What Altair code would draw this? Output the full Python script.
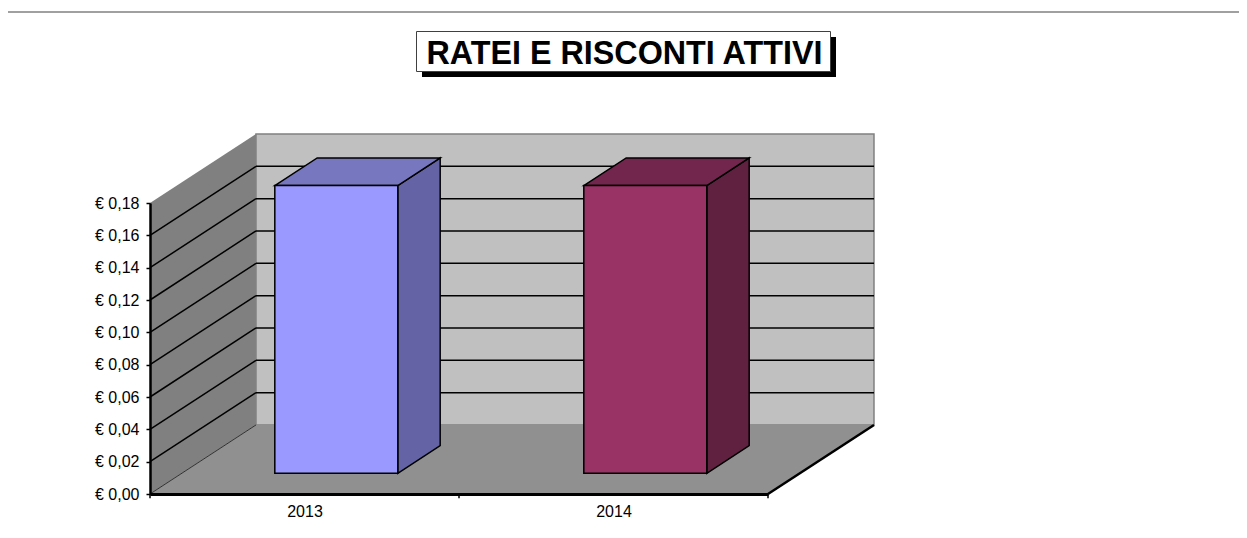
import altair as alt
import pandas as pd

categories = ["2013", "2014"]
values = [0.178, 0.178]
category_slots = [0, 1]
front_colors = ["#9999ff", "#993366"]
top_colors = ["#7777bf", "#73264d"]
side_colors = ["#6363a5", "#602040"]
grid_values = [0.02, 0.04, 0.06, 0.08, 0.10, 0.12, 0.14, 0.16]
y_ticks = [0.0, 0.02, 0.04, 0.06, 0.08, 0.10, 0.12, 0.14, 0.16, 0.18]
x_tick_positions = [0, 1, 2]
title_text = "RATEI E RISCONTI ATTIVI"

y_max = 0.18
x_max = 2.0
depth_x = 0.343   # category units per full depth
depth_y = 0.0427  # value units per full depth
bar_start, bar_end = 0.301, 0.699
bar_d0, bar_d1 = 0.30, 0.70

FONT = "Liberation Sans"
x_scale = alt.Scale(domain=[0, x_max], nice=False, zero=False)
y_scale = alt.Scale(domain=[0, y_max], nice=False, zero=False)


def enc_x(**kw):
    return alt.X("x:Q", scale=x_scale, **kw)


def enc_y(**kw):
    return alt.Y("y:Q", scale=y_scale, stack=None, **kw)


def poly(rows, color, stroke=None, width=0):
    df = pd.DataFrame(rows, columns=["x", "y", "y2"])
    props = dict(color=color, opacity=1, clip=False)
    if stroke:
        props.update(stroke=stroke, strokeWidth=width)
    return alt.Chart(df).mark_area(**props).encode(x=enc_x(), y=enc_y(), y2="y2:Q")


def seg(rows, color="black", width=1.5):
    df = pd.DataFrame(rows, columns=["x", "x2", "y", "y2"])
    return alt.Chart(df).mark_rule(color=color, strokeWidth=width).encode(
        x=enc_x(), x2="x2:Q", y=enc_y(), y2="y2:Q"
    )


axis_y = alt.Axis(
    values=y_ticks, tickCount=len(y_ticks), title=None, grid=False, zindex=2, labelOverlap=False,
    labelExpr="'€ ' + replace(format(datum.value, '.2f'), '.', ',')",
    labelFont=FONT, labelFontSize=16, labelColor="black", labelPadding=7,
    tickColor="black", tickSize=4, tickWidth=1.5,
    domainColor="black", domainWidth=2.5,
)
axis_x = alt.Axis(
    values=[0.5, 1.5], title=None, grid=False, zindex=2, labelOverlap=False,
    labelExpr="datum.value < 1 ? '" + categories[0] + "' : '" + categories[1] + "'",
    labelFont=FONT, labelFontSize=16, labelColor="black", labelPadding=9,
    labelAngle=0, tickSize=0, domainColor="black", domainWidth=3,
)

layers = []

# back wall, with the axes attached
back = pd.DataFrame(
    [(depth_x, y_max + depth_y, depth_y), (x_max + depth_x, y_max + depth_y, depth_y)],
    columns=["x", "y", "y2"],
)
layers.append(
    alt.Chart(back).mark_area(color="#c0c0c0", stroke="#808080", strokeWidth=1.5, opacity=1).encode(
        x=enc_x(axis=axis_x), y=enc_y(axis=axis_y), y2="y2:Q"
    )
)
# side wall
layers.append(poly([(0, y_max, 0), (depth_x, y_max + depth_y, depth_y)], "#808080"))
# floor
layers.append(
    poly(
        [
            (0, 0, 0),
            (depth_x, depth_y, 0),
            (x_max, depth_y, 0),
            (x_max + depth_x, depth_y, depth_y),
        ],
        "#909090",
    )
)
# floor edges
layers.append(seg([(x_max, x_max + depth_x, 0, depth_y)], "black", 2.5))
layers.append(seg([(0, depth_x, 0, depth_y)], "#303030", 1))
# gridlines: back and side wall
layers.append(seg([(depth_x, x_max + depth_x, v + depth_y, v + depth_y) for v in grid_values]))
layers.append(seg([(0, depth_x, v, v + depth_y) for v in grid_values]))
# axis ticks on x
layers.append(seg([(t, t, 0, -0.0026) for t in x_tick_positions], "black", 1.5))

# bars
for slot, val, fc, tc, sc in zip(category_slots, values, front_colors, top_colors, side_colors):
    x0 = slot + bar_start + bar_d0 * depth_x
    x1 = slot + bar_end + bar_d0 * depth_x
    base = bar_d0 * depth_y
    top = base + val
    dx = (bar_d1 - bar_d0) * depth_x
    dy = (bar_d1 - bar_d0) * depth_y
    layers.append(poly([(x1, top, base), (x1 + dx, top + dy, base + dy)], sc, "black", 1.5))
    layers.append(
        poly(
            [(x0, top, top), (x0 + dx, top + dy, top), (x1, top + dy, top), (x1 + dx, top + dy, top + dy)],
            tc, "black", 1.5,
        )
    )
    layers.append(poly([(x0, top, base), (x1, top, base)], fc, "black", 1.5))

# header: full-width rule and boxed title with drop shadow (offsets from plot origin)
anchor = pd.DataFrame({"label": [title_text]})
layers.append(
    alt.Chart(anchor).mark_rule(color="#808080", strokeWidth=1.5).encode(
        x=alt.value(-150), x2=alt.value(1097), y=alt.value(-191), y2=alt.value(-191)
    )
)
layers.append(
    alt.Chart(anchor).mark_rect(color="black").encode(
        x=alt.value(272), x2=alt.value(686), y=alt.value(-166), y2=alt.value(-126)
    )
)
layers.append(
    alt.Chart(anchor).mark_rect(fill="white", stroke="#404040", strokeWidth=1).encode(
        x=alt.value(266.5), x2=alt.value(680.5), y=alt.value(-171.5), y2=alt.value(-131.5)
    )
)
layers.append(
    alt.Chart(anchor).mark_text(
        font=FONT, fontSize=32.3, fontWeight="bold", color="black", align="center", baseline="middle"
    ).encode(x=alt.value(474.5), y=alt.value(-149), text="label:N")
)

chart = alt.layer(*layers).properties(
    width=618,
    height=291,
    padding={"left": 142, "top": 195, "right": 471, "bottom": 36},
    autosize="none",
    background="white",
).configure_view(stroke=None)

chart.save("out.html", embed_options={"renderer": "svg", "actions": False})
